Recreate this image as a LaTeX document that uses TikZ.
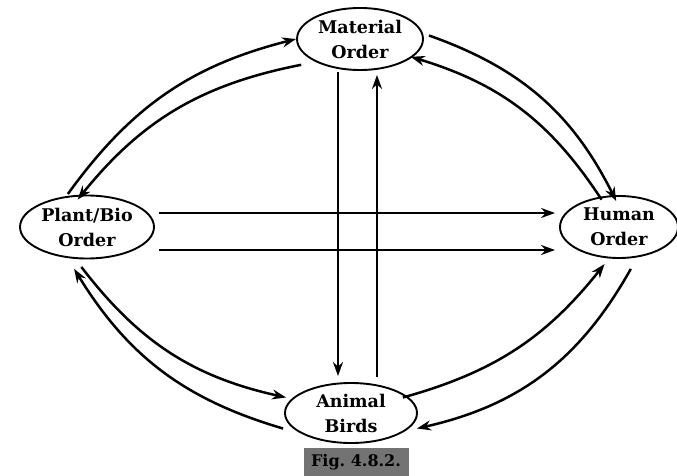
\documentclass[tikz,border=0pt]{standalone}
\usepackage{fontspec}
\newfontfamily\labfont{DejaVu Serif}
\usetikzlibrary{shapes.geometric,arrows.meta}
\begin{document}
\begin{tikzpicture}[x=1pt,y=1pt,
  ord/.style={draw,ellipse,line width=1.9pt,inner sep=0pt,align=center,
    font=\labfont\fontsize{17.5}{25}\selectfont\bfseries},
  arr/.style={line width=2.5pt,-{Stealth[length=14pt,width=10pt]}}]
\useasboundingbox (0,0) rectangle (677,-476);
\node[ord,minimum width=126pt,minimum height=62pt] (mat) at (360,-39) {Material\\Order};
\node[ord,minimum width=134pt,minimum height=63pt] (pla) at (87,-227) {Plant/Bio\\Order};
\node[ord,minimum width=118pt,minimum height=62pt] (hum) at (619,-227) {Human\\Order};
\node[ord,minimum width=132pt,minimum height=60pt] (ani) at (351,-413) {Animal\\Birds};
\node[fill=black!55,inner sep=0pt,minimum width=105pt,minimum height=28pt,
  font=\labfont\fontsize{16}{20}\selectfont\bfseries] (cap) at (356,-462) {Fig.~4.8.2.};
% arcs
\draw[arr] ([shift={(1,2)}]pla.123) to[bend left=20] (mat.west);
\draw[arr] ([shift={(-12,-4)}]mat.205) to[bend right=20] ([shift={(8,-4)}]pla.119);
\draw[arr] ([shift={(6,-2)}]mat.5) to[bend left=22] ([shift={(0,-6)}]hum.95);
\draw[arr] ([shift={(-6,-4)}]hum.110) to[bend right=20] ([shift={(4,4)}]mat.-25);
\draw[arr] ([shift={(6,-8)}]pla.-110) to[bend right=20] ([shift={(-7,0)}]ani.165);
\draw[arr] ([shift={(-10,0)}]ani.-165) to[bend left=21] ([shift={(0,-10)}]pla.-112);
\draw[arr] ([shift={(-6,0)}]ani.15) to[bend right=18] ([shift={(0,-6)}]hum.-115);
\draw[arr] ([shift={(9,-10)}]hum.-85) to[bend left=24] ([shift={(8,0)}]ani.-15);
% straight
\draw[arr] ([xshift=4pt]pla.east |- 0,-213) -- ([xshift=-4pt]hum.west |- 0,-213);
\draw[arr] ([xshift=4pt]pla.east |- 0,-250) -- ([xshift=-4pt]hum.west |- 0,-250);
\draw[arr] ([yshift=-1pt]mat.south -| 338,0) -- ([yshift=6pt]ani.north -| 338,0);
\draw[arr] ([yshift=5pt]ani.north -| 377,0) -- ([yshift=-4pt]mat.south -| 377,0);
\end{tikzpicture}
\end{document}
